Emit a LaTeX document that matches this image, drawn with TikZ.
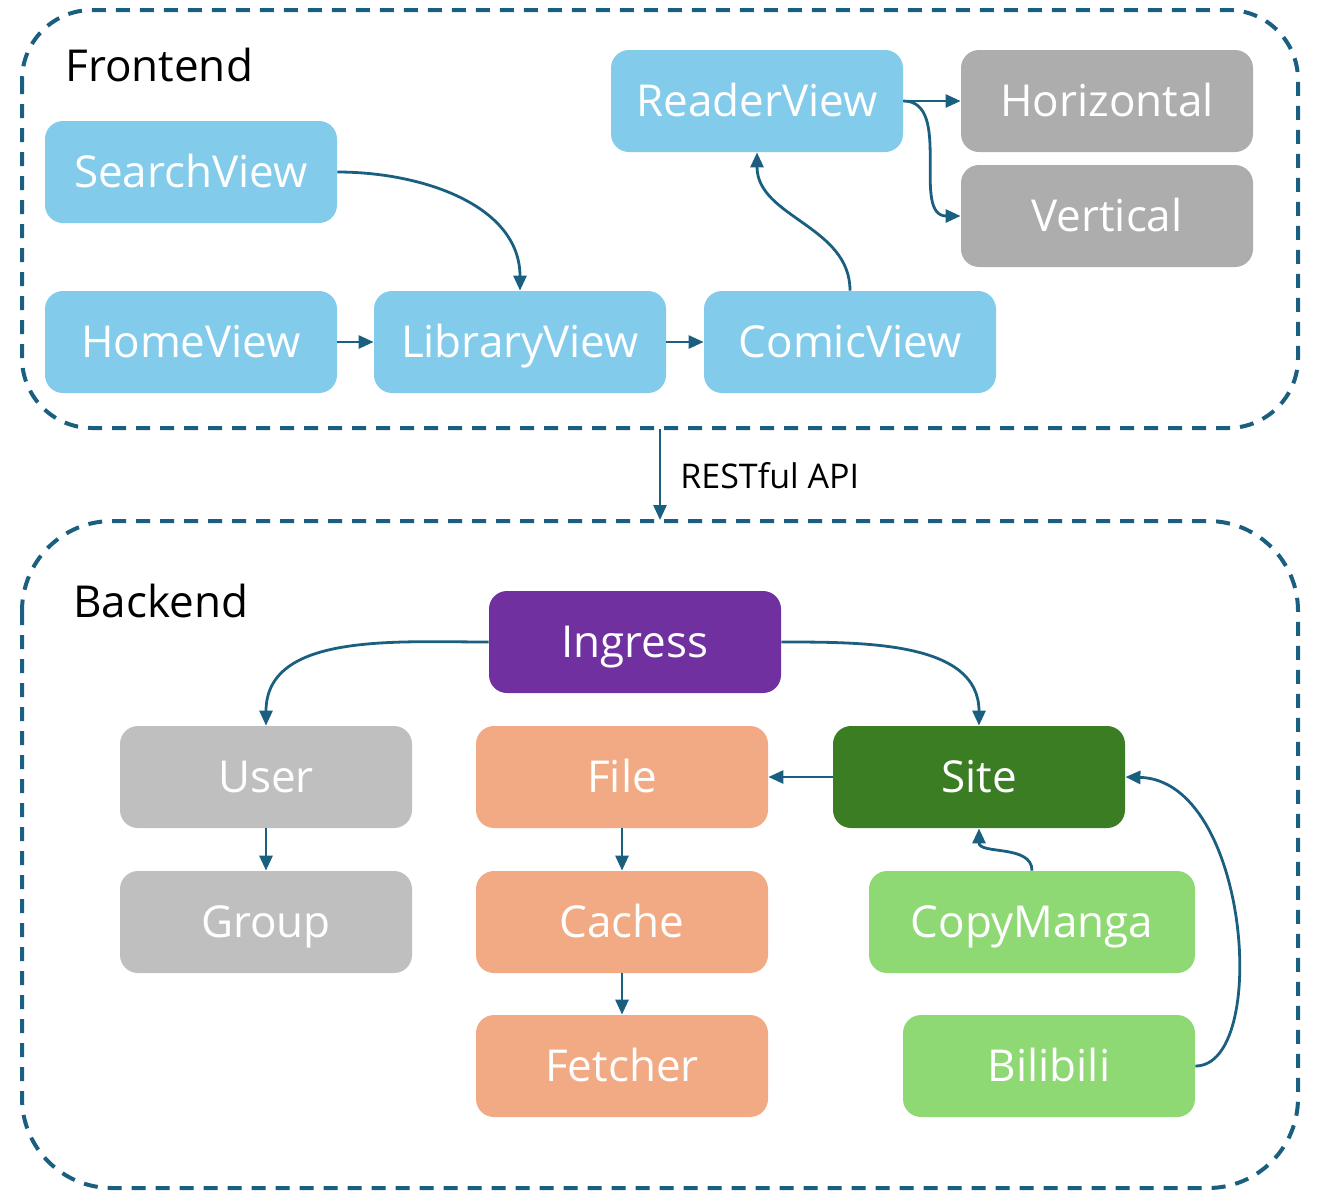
\documentclass[tikz,border=0pt]{standalone}
\usepackage{fontspec}
\setmainfont{Open Sans}
\usetikzlibrary{arrows.meta}
\definecolor{edge}{HTML}{1A5F80}
\definecolor{lblue}{HTML}{83CBEB}
\definecolor{dgray}{HTML}{ADADAD}
\definecolor{lgray}{HTML}{BFBFBF}
\definecolor{purp}{HTML}{7030A0}
\definecolor{orng}{HTML}{F2AA84}
\definecolor{dgreen}{HTML}{3B7D23}
\definecolor{lgreen}{HTML}{8ED973}
\tikzset{
  box/.style={rounded corners=9pt, minimum width=146pt, minimum height=51pt, inner sep=0pt, text=white, text height=20.7pt, text depth=5pt, font=\fontsize{22}{26}\selectfont},
  container/.style={draw=edge, line width=2pt, dash pattern=on 7pt off 5pt},
  conn/.style={draw=edge, line width=1.4pt, -{Triangle[length=7.5pt,width=6.5pt]}},
  title/.style={font=\fontsize{22}{26}\selectfont, anchor=west, inner sep=0pt}
}
\begin{document}
\begin{tikzpicture}[x=0.5pt,y=-0.5pt]
\useasboundingbox (0,0) rectangle (1320,1195);
% containers
\draw[container, rounded corners=35pt] (22,10) rectangle (1298,428);
\draw[container, rounded corners=45pt] (22,521) rectangle (1298,1188);
\node[title] (fe) at (65,65) {Frontend};
\node[title] (be) at (73,601) {Backend};
% frontend nodes
\node[box, fill=lblue] (search) at (191,172) {SearchView};
\node[box, fill=lblue] (home) at (191,342) {HomeView};
\node[box, fill=lblue] (lib) at (520,342) {LibraryView};
\node[box, fill=lblue] (comic) at (850,342) {ComicView};
\node[box, fill=lblue] (reader) at (757,101) {ReaderView};
\node[box, fill=dgray] (hor) at (1107,101) {Horizontal};
\node[box, fill=dgray] (ver) at (1107,216) {Vertical};
% backend nodes
\node[box, fill=purp] (ing) at (635,642) {Ingress};
\node[box, fill=lgray] (user) at (266,777) {User};
\node[box, fill=lgray] (group) at (266,922) {Group};
\node[box, fill=orng] (file) at (622,777) {File};
\node[box, fill=orng] (cache) at (622,922) {Cache};
\node[box, fill=orng] (fetch) at (622,1066) {Fetcher};
\node[box, fill=dgreen] (site) at (979,777) {Site};
\node[box, fill=lgreen, minimum width=163pt] (copy) at (1032,922) {CopyManga};
\node[box, fill=lgreen] (bili) at (1049,1066) {Bilibili};
% api
\coordinate (apitop) at (660,429);
\coordinate (apibot) at (660,520);
\draw[conn] (apitop) -- (apibot);
\node[anchor=west, inner sep=0pt, font=\fontsize{17}{20}\selectfont] (api) at (680,476) {RESTful API};
% frontend connectors
\draw[conn] (search.east) to[out=0,in=90] (lib.north);
\draw[conn] (home) -- (lib);
\draw[conn] (lib) -- (comic);
\draw[conn] (comic.north) to[out=90,in=-90] (reader.south);
\draw[conn] (reader.east) to[out=0,in=180] (hor.west);
\draw[conn] (reader.east) to[out=0,in=180] (ver.west);
% backend connectors
\draw[conn] (ing.west) to[out=180,in=90] (user.north);
\draw[conn] (ing.east) to[out=0,in=90] (site.north);
\draw[conn] (site) -- (file);
\draw[conn] (user) -- (group);
\draw[conn] (file) -- (cache);
\draw[conn] (cache) -- (fetch);
\draw[conn] (copy.north) to[out=90,in=-90] (site.south);
\draw[conn] (bili.east) .. controls (1270,1066) and (1250,780) .. (site.east);
\end{tikzpicture}
\end{document}
